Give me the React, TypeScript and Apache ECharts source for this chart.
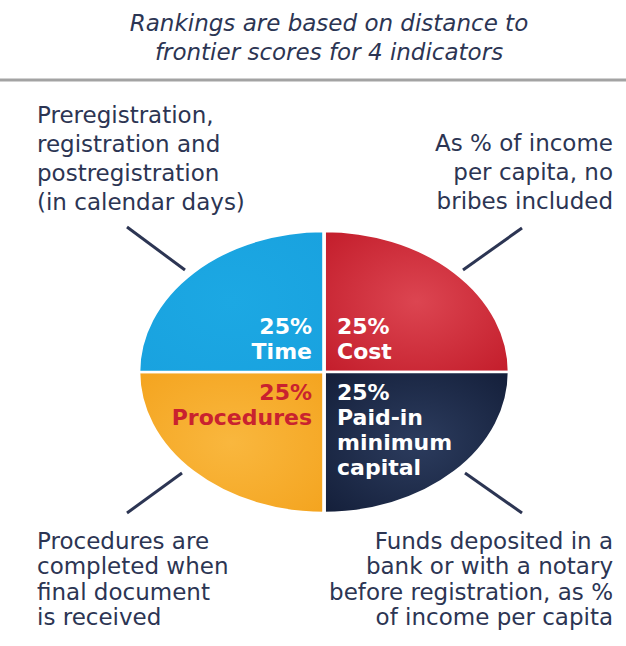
import React, { useEffect, useRef } from "react";
import * as echarts from "echarts";

const categories = ["Cost", "Paid-in minimum capital", "Procedures", "Time"];
const values = [25, 25, 25, 25];
const sliceLabels = ["25%\nCost", "25%\nPaid-in\nminimum\ncapital", "25%\nProcedures", "25%\nTime"];
const sliceColors = [
  ["#dc4551", "#c31d2b"],
  ["#2c3c5e", "#141f3a"],
  ["#f9b73e", "#f4a41f"],
  ["#1ca8e3", "#19a2df"],
];
const labelColors = ["#ffffff", "#ffffff", "#c9222f", "#ffffff"];

const titleLines = ["Rankings are based on distance to", "frontier scores for 4 indicators"];
const noteTopLeft = "Preregistration,\nregistration and\npostregistration\n(in calendar days)";
const noteTopRight = "As % of income\nper capita, no\nbribes included";
const noteBottomLeft = "Procedures are\ncompleted when\nfinal document\nis received";
const noteBottomRight = "Funds deposited in a\nbank or with a notary\nbefore registration, as %\nof income per capita";

const CX = 324;
const CY = 372;
const RX = 184;
const RY = 140;
const INK = "#2c3553";

export default function App() {
  const ref = useRef<HTMLDivElement>(null);

  useEffect(() => {
    document.body.style.margin = "0";
    if (!ref.current) return;
    const chart = echarts.init(ref.current, undefined, { renderer: "svg" });
    const total = values.reduce((a, b) => a + b, 0);

    const renderItem = (params: any, api: any) => {
      const i = params.dataIndex;
      let before = 0;
      for (let k = 0; k < i; k++) before += values[k];
      const v = api.value(0);
      const start = -Math.PI / 2 + (before / total) * Math.PI * 2;
      const end = start + (v / total) * Math.PI * 2;
      const mid = (start + end) / 2;
      const right = Math.cos(mid) > 0;
      const top = Math.sin(mid) < 0;
      const [c1, c2] = sliceColors[i];
      return {
        type: "group",
        children: [
          {
            type: "sector",
            x: CX,
            y: CY,
            scaleY: RY / RX,
            shape: { cx: 0, cy: 0, r: RX + 1.5, r0: 0, startAngle: start, endAngle: end, clockwise: true },
            style: {
              fill: new echarts.graphic.RadialGradient(0.5, 0.5, 0.7, [
                { offset: 0, color: c1 },
                { offset: 1, color: c2 },
              ]),
              stroke: "#ffffff",
              lineWidth: 3.6,
            },
          },
          {
            type: "text",
            x: right ? CX + 13 : CX - 12,
            y: top ? CY - 8 : CY + 8,
            style: {
              text: sliceLabels[i],
              fill: labelColors[i],
              fontFamily: "DejaVu Sans",
              fontWeight: "bold",
              fontSize: 22,
              lineHeight: 25,
              align: right ? "left" : "right",
              verticalAlign: top ? "bottom" : "top",
            },
          },
        ],
      };
    };

    const noteStyle = (text: string, align: string, lh: number) => ({
      text,
      fill: INK,
      fontFamily: "DejaVu Sans",
      fontSize: 23,
      lineHeight: lh,
      align,
      verticalAlign: "top",
    });

    chart.setOption({
      animation: false,
      series: [
        {
          type: "custom",
          coordinateSystem: "none",
          name: "Indicators",
          data: values.map((v, i) => ({ name: categories[i], value: [v] })),
          renderItem,
        },
      ],
      graphic: [
        {
          type: "text",
          x: 329,
          y: 8,
          style: {
            text: titleLines.join("\n"),
            fill: INK,
            fontFamily: "DejaVu Sans",
            fontStyle: "italic",
            fontSize: 23,
            lineHeight: 29,
            align: "center",
            verticalAlign: "top",
          },
        },
        { type: "line", shape: { x1: 0, y1: 80, x2: 626, y2: 80 }, style: { stroke: "#a3a3a3", lineWidth: 3 } },
        { type: "text", x: 37, y: 100, style: noteStyle(noteTopLeft, "left", 29) },
        { type: "text", x: 613, y: 128, style: noteStyle(noteTopRight, "right", 29) },
        { type: "text", x: 37, y: 528, style: noteStyle(noteBottomLeft, "left", 25.5) },
        { type: "text", x: 613, y: 528, style: noteStyle(noteBottomRight, "right", 25.5) },
        { type: "line", shape: { x1: 127, y1: 227, x2: 185, y2: 270 }, style: { stroke: INK, lineWidth: 3 } },
        { type: "line", shape: { x1: 522, y1: 228, x2: 463, y2: 270 }, style: { stroke: INK, lineWidth: 3 } },
        { type: "line", shape: { x1: 182, y1: 473, x2: 127, y2: 513 }, style: { stroke: INK, lineWidth: 3 } },
        { type: "line", shape: { x1: 465, y1: 473, x2: 522, y2: 513 }, style: { stroke: INK, lineWidth: 3 } },
      ],
    });
    return () => chart.dispose();
  }, []);

  return <div ref={ref} style={{ width: 626, height: 646 }} />;
}
